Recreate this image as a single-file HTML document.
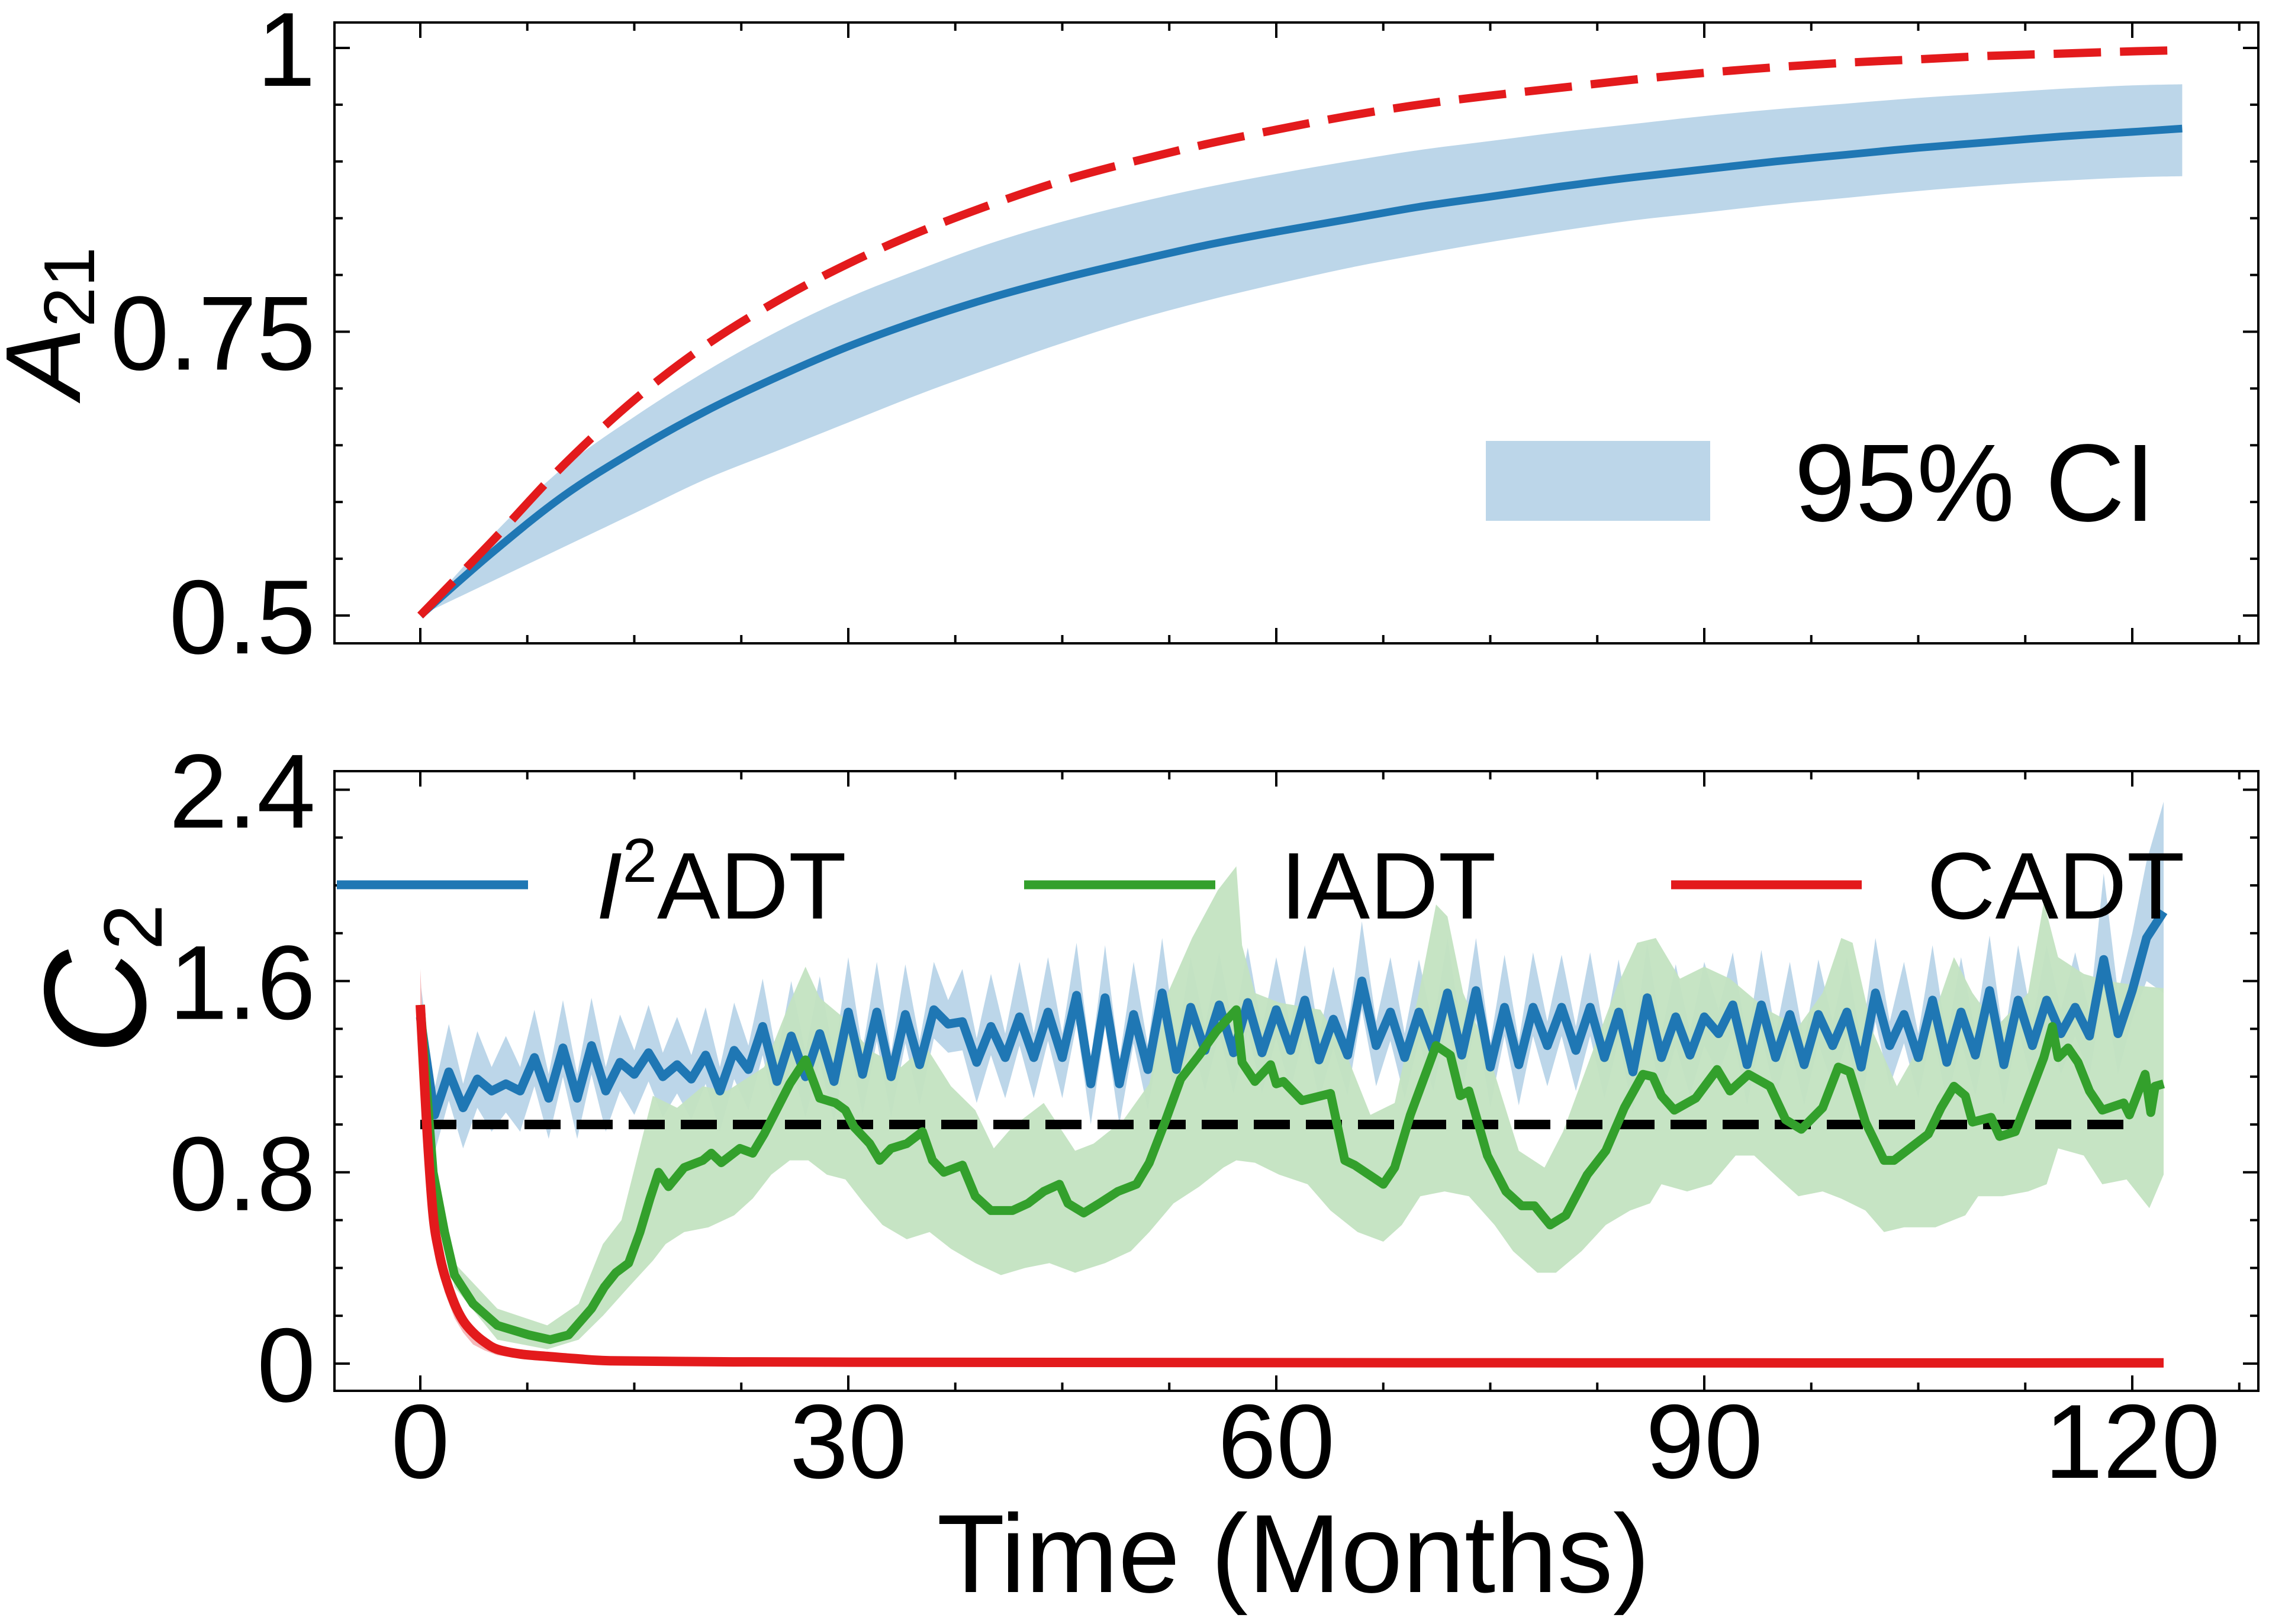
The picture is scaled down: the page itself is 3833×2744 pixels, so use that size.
<!DOCTYPE html>
<html><head><meta charset="utf-8"><style>
html,body{margin:0;padding:0;background:#fff}
svg{display:block}
text{font-family:"Liberation Sans",sans-serif;fill:#000}
</style></head><body>
<svg id="chart" width="3833" height="2744" viewBox="0 0 3833 2744" xmlns="http://www.w3.org/2000/svg">
<g id="top"></g>
<g id="bot"></g>
<g id="labels">
<text x="2185" y="2690" font-size="188" text-anchor="middle">Time (Months)</text>
<text transform="translate(135,545) rotate(-90)" text-anchor="middle"><tspan font-size="180" font-style="italic">A</tspan><tspan font-size="122" dy="24">21</tspan></text>
<text transform="translate(245,1655) rotate(-90)" text-anchor="middle"><tspan font-size="245" font-style="italic">C</tspan><tspan font-size="140" dy="28">2</tspan></text>
</g>
</svg>
<script>
const NS="http://www.w3.org/2000/svg";
// ---- top panel data ----
const topT=[0,5,10,15,20,25,30,35,40,45,50,55,60,65,70,75,80,85,90,95,100,105,110,115,120,123.5];
const topRed=[.5,.565,.632,.69,.738,.777,.81,.838,.862,.883,.9,.915,.928,.94,.95,.958,.965,.972,.978,.983,.987,.99,.993,.995,.997,.998];
const topBlue=[.5,.555,.605,.645,.68,.71,.737,.76,.78,.797,.812,.826,.838,.849,.86,.869,.878,.886,.893,.90,.906,.912,.917,.922,.926,.929];
const topHi=[.5,.57,.63,.675,.715,.75,.78,.805,.828,.847,.863,.877,.889,.90,.91,.918,.926,.933,.94,.946,.951,.956,.96,.964,.967,.968];
const topLo=[.5,.53,.56,.59,.62,.645,.67,.695,.718,.74,.76,.777,.792,.806,.818,.829,.839,.848,.855,.862,.868,.874,.879,.883,.886,.887];
const topYTicks=[0.5,0.75,1];
const topYLabels=["0.5","0.75","1"];
// ---- bottom panel data ----
const blueT=[];for(let i=0;i<=121;i++)blueT.push(i);blueT.push(122.2);
const blueV=[1.45,1.04,1.22,1.07,1.19,1.14,1.17,1.14,1.28,1.11,
1.32,1.11,1.33,1.14,1.26,1.21,1.30,1.20,1.25,1.19,
1.29,1.14,1.31,1.23,1.41,1.18,1.37,1.20,1.38,1.18,
1.47,1.21,1.47,1.20,1.46,1.25,1.48,1.42,1.43,1.26,
1.41,1.28,1.45,1.28,1.47,1.28,1.54,1.17,1.53,1.17,
1.46,1.23,1.55,1.23,1.49,1.31,1.50,1.30,1.51,1.30,
1.48,1.31,1.52,1.27,1.44,1.29,1.60,1.33,1.47,1.28,
1.47,1.31,1.55,1.29,1.56,1.24,1.49,1.25,1.49,1.33,
1.49,1.31,1.49,1.28,1.47,1.22,1.53,1.28,1.45,1.29,
1.45,1.38,1.50,1.25,1.50,1.28,1.46,1.25,1.46,1.33,
1.47,1.24,1.55,1.33,1.46,1.28,1.52,1.26,1.47,1.29,
1.56,1.25,1.52,1.33,1.52,1.38,1.49,1.37,1.69,1.38,
1.56,1.78,1.89];
const blueHi=[1.6,1.15,1.42,1.17,1.39,1.24,1.37,1.24,1.48,1.21,
1.52,1.21,1.53,1.24,1.46,1.31,1.50,1.30,1.45,1.29,
1.49,1.24,1.51,1.33,1.61,1.28,1.60,1.30,1.62,1.28,
1.70,1.31,1.68,1.30,1.67,1.35,1.68,1.52,1.65,1.36,
1.63,1.38,1.68,1.38,1.70,1.38,1.76,1.27,1.75,1.27,
1.68,1.33,1.78,1.33,1.70,1.41,1.72,1.40,1.74,1.40,
1.70,1.41,1.75,1.37,1.66,1.39,1.85,1.43,1.70,1.38,
1.69,1.41,1.78,1.39,1.78,1.34,1.71,1.35,1.72,1.43,
1.71,1.41,1.72,1.38,1.69,1.32,1.76,1.38,1.67,1.39,
1.68,1.48,1.72,1.35,1.73,1.38,1.68,1.35,1.69,1.43,
1.70,1.34,1.78,1.43,1.68,1.38,1.75,1.36,1.70,1.39,
1.79,1.35,1.75,1.43,1.75,1.48,1.72,1.47,2.05,1.55,
1.80,2.10,2.35];
const blueLo=[1.35,0.88,1.10,0.90,1.07,0.97,1.05,0.97,1.16,0.94,
1.20,0.94,1.21,0.97,1.14,1.04,1.18,1.03,1.13,1.02,
1.17,0.97,1.19,1.06,1.29,1.01,1.25,1.03,1.26,1.01,
1.35,1.04,1.35,1.03,1.34,1.08,1.36,1.30,1.31,1.09,
1.29,1.11,1.33,1.11,1.35,1.11,1.42,1.00,1.41,1.00,
1.34,1.06,1.43,1.06,1.37,1.14,1.38,1.13,1.39,1.13,
1.36,1.14,1.40,1.10,1.32,1.12,1.48,1.16,1.35,1.11,
1.35,1.14,1.43,1.12,1.44,1.07,1.37,1.08,1.37,1.16,
1.37,1.14,1.37,1.11,1.35,1.05,1.41,1.11,1.33,1.12,
1.33,1.21,1.38,1.08,1.38,1.11,1.34,1.08,1.34,1.16,
1.35,1.07,1.43,1.16,1.34,1.11,1.40,1.09,1.35,1.12,
1.44,1.08,1.40,1.16,1.40,1.21,1.37,1.20,1.57,1.21,
1.44,1.60,1.55];
const greenT=[0,0.9,1.7,2.4,3.7,5.4,7.6,9.1,10.4,12.0,12.9,13.7,14.6,15.4,16.1,16.7,17.4,18.5,19.8,20.4,21.1,22.4,23.3,24.1,25.9,27.0,28.0,29.1,29.8,30.4,31.5,32.2,33.0,34.1,35.2,35.9,36.7,38.0,38.9,40.0,41.5,42.6,43.7,44.8,45.4,46.5,47.6,48.9,50.2,51.1,52.2,53.3,54.6,55.8,57.2,57.6,58.5,59.6,60.0,60.5,61.8,63.8,64.8,65.5,67.5,68.3,69.4,71.2,72.2,72.9,73.5,74.8,76.1,77.2,78.1,79.2,80.3,81.8,83.1,84.4,85.7,86.4,87.0,87.9,89.4,90.9,91.8,93.1,94.6,95.7,96.8,98.3,99.4,100.2,101.3,102.6,103.3,104.4,105.7,106.6,107.5,108.3,108.8,110.1,110.7,111.8,113.1,113.8,114.4,114.8,115.5,116.2,117.0,117.9,119.4,119.8,120.9,121.3,121.6,122.2];
const greenV=[1.5,0.80,0.55,0.37,0.25,0.16,0.12,0.10,0.12,0.23,0.32,0.38,0.42,0.55,0.69,0.80,0.74,0.82,0.85,0.88,0.84,0.90,0.88,0.96,1.17,1.27,1.11,1.09,1.06,0.99,0.92,0.85,0.90,0.92,0.97,0.85,0.80,0.83,0.70,0.64,0.64,0.67,0.72,0.75,0.67,0.63,0.67,0.72,0.75,0.84,1.01,1.19,1.29,1.39,1.48,1.26,1.18,1.25,1.17,1.18,1.10,1.13,0.85,0.83,0.75,0.82,1.04,1.33,1.29,1.12,1.14,0.87,0.72,0.66,0.66,0.58,0.62,0.79,0.89,1.07,1.21,1.20,1.12,1.06,1.11,1.23,1.14,1.21,1.16,1.02,0.98,1.07,1.24,1.22,1.01,0.85,0.85,0.90,0.96,1.07,1.16,1.12,1.01,1.03,0.95,0.97,1.17,1.28,1.41,1.28,1.32,1.26,1.14,1.06,1.09,1.04,1.21,1.05,1.16,1.17];
const greenHiT=[0,0.9,2.4,5.4,8.9,11.1,12.8,14.1,16.3,18,19.8,21.5,24.1,25.9,27,28,29.8,31.5,33.7,35.4,37.2,38.9,40.2,41.5,43.7,45.9,47.2,49.3,51.1,52.4,54.1,55.9,57.2,57.6,58.5,60.2,63.1,64.8,66.6,68.3,70,71.2,72,73.1,74.8,77,78.8,80.1,82.2,83.9,85.3,86.6,88.3,90,91.8,94.4,96.6,98.3,99.6,100.4,101.8,103.5,105.7,107.5,108.8,110.5,112.7,113.8,114.8,116.6,118.3,120.5,122.2];
const greenHi=[1.5,0.85,0.42,0.23,0.16,0.25,0.50,0.60,1.12,1.07,1.16,1.14,1.24,1.51,1.66,1.53,1.44,1.31,1.24,1.33,1.16,1.06,0.90,0.99,1.09,0.89,0.92,1.02,1.17,1.55,1.78,1.98,2.08,1.75,1.55,1.51,1.48,1.31,1.04,1.09,1.55,1.92,1.87,1.55,1.31,0.89,0.82,0.97,1.31,1.58,1.76,1.78,1.61,1.66,1.61,1.48,1.41,1.55,1.78,1.76,1.39,1.16,1.39,1.70,1.55,1.41,1.55,1.93,1.70,1.63,1.60,1.58,1.57];
const greenLoT=[0,0.9,2.4,5.4,8.9,11.1,12.8,14.6,16.3,17.2,18.5,20.2,22,23.3,24.6,25.9,27.2,28.5,29.8,31.1,32.4,34.1,35.7,37.2,38.9,40.7,42.4,44.1,45.9,48,49.8,51.1,52.8,54.6,56.3,57.2,58.5,60.2,62.2,63.8,65.7,67.5,68.8,70.1,71.8,73.5,75.3,76.6,78.3,79.6,81.4,83.1,84.8,86.2,87,88.8,90.5,92.2,93.5,95.3,96.6,98.3,99.6,101.3,102.6,104,106.2,108.3,109.2,110.9,112.7,114,114.8,116.6,117.9,119.6,121.2,122.2];
const greenLo=[1.5,0.72,0.32,0.10,0.06,0.10,0.20,0.32,0.43,0.50,0.55,0.57,0.62,0.69,0.79,0.85,0.85,0.79,0.77,0.67,0.58,0.52,0.55,0.48,0.42,0.37,0.40,0.42,0.38,0.42,0.47,0.55,0.67,0.74,0.82,0.85,0.84,0.79,0.75,0.64,0.55,0.51,0.58,0.70,0.72,0.70,0.58,0.47,0.38,0.38,0.47,0.58,0.64,0.67,0.75,0.72,0.75,0.87,0.87,0.77,0.70,0.72,0.69,0.64,0.55,0.57,0.57,0.62,0.70,0.70,0.72,0.75,0.90,0.87,0.75,0.77,0.65,0.79];
const redT=[0,0.5,0.9,1.3,1.7,2.4,3.0,3.7,4.5,5.4,7.0,8.9,11,13.3,20,30,60,90,122.2];
const redV=[1.5,0.95,0.62,0.47,0.37,0.25,0.18,0.13,0.09,0.06,0.04,0.03,0.02,0.012,0.008,0.006,0.004,0.003,0.003];
const redHi=[1.65,1.05,0.68,0.52,0.41,0.28,0.20,0.15,0.10,0.07,0.05,0.035,0.025,0.015,0.01,0.008,0.006,0.005,0.005];
const redLo=[1.45,0.85,0.55,0.40,0.30,0.19,0.13,0.08,0.055,0.035,0.022,0.015,0.01,0.006,0.004,0.003,0.002,0.001,0.001];
const refLevel=[1.0];
const refT=[0,119.5];
const botYTicks=[0,0.8,1.6,2.4];
const botYLabels=["0","0.8","1.6","2.4"];
const xTicks=[0,30,60,90,120];
const xLabels=["0","30","60","90","120"];

// ---- scales ----
const X0=710,XS=24.1,LEFT=565,RIGHT=3815;
const x=t=>X0+t*XS;
const yT=v=>81+(1-v)*1918;
const yB=v=>2304-v*404;
const TOP={y0:38,y1:1087},BOT={y0:1303,y1:2350};

function el(tag,attrs,parent){const e=document.createElementNS(NS,tag);for(const k in attrs)e.setAttribute(k,attrs[k]);parent.appendChild(e);return e;}
function pts(ts,vs,ys){return ts.map((t,i)=>[x(t),ys(vs[i])]);}
function linePath(ts,vs,ys){return ts.map((t,i)=>(i?"L":"M")+x(t).toFixed(1)+","+ys(vs[i]).toFixed(1)).join("");}
function smoothSeg(P,start){
  let d=start?("M"+P[0][0].toFixed(1)+","+P[0][1].toFixed(1)):("L"+P[0][0].toFixed(1)+","+P[0][1].toFixed(1));
  for(let i=0;i<P.length-1;i++){
    const p0=P[Math.max(0,i-1)],p1=P[i],p2=P[i+1],p3=P[Math.min(P.length-1,i+2)];
    const c1=[p1[0]+(p2[0]-p0[0])/6,p1[1]+(p2[1]-p0[1])/6];
    const c2=[p2[0]-(p3[0]-p1[0])/6,p2[1]-(p3[1]-p1[1])/6];
    d+="C"+c1[0].toFixed(1)+","+c1[1].toFixed(1)+" "+c2[0].toFixed(1)+","+c2[1].toFixed(1)+" "+p2[0].toFixed(1)+","+p2[1].toFixed(1);
  }
  return d;
}
function bandPath(tH,hi,tL,lo,ys){let d=tH.map((t,i)=>(i?"L":"M")+x(t).toFixed(1)+","+ys(hi[i]).toFixed(1)).join("");for(let i=tL.length-1;i>=0;i--)d+="L"+x(tL[i]).toFixed(1)+","+ys(lo[i]).toFixed(1);return d+"Z";}
function smoothBand(t,hi,lo,ys){return smoothSeg(pts(t,hi,ys),true)+smoothSeg(pts(t,lo,ys).reverse(),false)+"Z";}

function axes(g,box,ys,yTicks,yLabels,minorStep,vmin,vmax,showX){
  for(let t=-7.5;t<=130;t+=7.5){
    const xx=x(t);if(xx<LEFT+2||xx>RIGHT-2)continue;
    const major=Math.abs(t%30)<1e-6;const L=major?26:14;
    const a=el("line",{x1:xx,x2:xx,y1:box.y1,y2:box.y1-L,stroke:"#000","stroke-width":4},g);
    
    const b=el("line",{x1:xx,x2:xx,y1:box.y0,y2:box.y0+L,stroke:"#000","stroke-width":4},g);
    
  }
  for(let v=vmin;v<=vmax+1e-9;v+=minorStep){
    const yy=ys(v);if(yy<box.y0+2||yy>box.y1-2)continue;
    const major=yTicks.some(m=>Math.abs(m-v)<1e-6);const L=major?26:14;
    const a=el("line",{x1:LEFT,x2:LEFT+L,y1:yy,y2:yy,stroke:"#000","stroke-width":4},g);
    
    const b=el("line",{x1:RIGHT,x2:RIGHT-L,y1:yy,y2:yy,stroke:"#000","stroke-width":4},g);
    
  }
  yTicks.forEach((v,i)=>{
    const t=el("text",{x:533,y:ys(v)+64,"font-size":178,"text-anchor":"end"},g);t.textContent=yLabels[i];
    
  });
  if(showX)xTicks.forEach((v,i)=>{
    const t=el("text",{x:x(v),y:2497,"font-size":178,"text-anchor":"middle"},g);t.textContent=xLabels[i];
    
  });
  const r=el("rect",{x:LEFT,y:box.y0,width:RIGHT-LEFT,height:box.y1-box.y0,fill:"none",stroke:"#000","stroke-width":4},g);
  
}

// top panel
const gt=document.getElementById("top");
let p=el("path",{d:smoothBand(topT,topHi,topLo,yT),fill:"#bcd6e9"},gt);

p=el("path",{d:smoothSeg(pts(topT,topBlue,yT),true),fill:"none",stroke:"#1f77b4","stroke-width":13,"stroke-linejoin":"round"},gt);

p=el("path",{d:smoothSeg(pts(topT,topRed,yT),true),fill:"none",stroke:"#e31a1c","stroke-width":14,"stroke-dasharray":"80 32"},gt);

axes(gt,TOP,yT,topYTicks,topYLabels,0.05,0.5,1.0,false);
p=el("rect",{x:2510,y:745,width:379,height:135,fill:"#bcd6e9"},gt);

p=el("text",{x:3031,y:880,"font-size":186},gt);p.textContent="95% CI";


// bottom panel
const gb=document.getElementById("bot");
p=el("path",{d:bandPath(blueT,blueHi,blueT,blueLo,yB),fill:"#bcd6e9"},gb);

p=el("path",{d:bandPath(greenHiT,greenHi,greenLoT,greenLo,yB),fill:"#c3e3c1","fill-opacity":0.95},gb);

p=el("path",{d:bandPath(redT,redHi,redT,redLo,yB),fill:"#f4b9ba"},gb);

p=el("line",{x1:x(refT[0]),x2:x(refT[1]),y1:yB(refLevel[0]),y2:yB(refLevel[0]),stroke:"#000","stroke-width":16,"stroke-dasharray":"61 27"},gb);

p=el("path",{d:linePath(blueT,blueV,yB),fill:"none",stroke:"#1f77b4","stroke-width":15,"stroke-linejoin":"round"},gb);

p=el("path",{d:linePath(greenT,greenV,yB),fill:"none",stroke:"#33a02c","stroke-width":15,"stroke-linejoin":"round"},gb);

p=el("path",{d:smoothSeg(pts(redT,redV,yB),true),fill:"none",stroke:"#e31a1c","stroke-width":16,"stroke-linejoin":"round"},gb);

axes(gb,BOT,yB,botYTicks,botYLabels,0.2,0,2.4,true);
// legend
const leg=[[569,892,"#1f77b4"],[1730,2053,"#33a02c"],[2823,3145,"#e31a1c"]];
p=el("line",{x1:leg[0][0],x2:leg[0][1],y1:1495,y2:1495,stroke:leg[0][2],"stroke-width":15},gb);

p=el("line",{x1:leg[1][0],x2:leg[1][1],y1:1495,y2:1495,stroke:leg[1][2],"stroke-width":15},gb);

p=el("line",{x1:leg[2][0],x2:leg[2][1],y1:1495,y2:1495,stroke:leg[2][2],"stroke-width":15},gb);

p=el("text",{x:1007,y:1552,"font-size":160},gb);
p.innerHTML='<tspan font-style="italic">I</tspan><tspan font-size="105" dy="-62">2</tspan><tspan dy="62">ADT</tspan>';

p=el("text",{x:2163,y:1552,"font-size":160},gb);p.textContent="IADT";

p=el("text",{x:3255,y:1552,"font-size":160},gb);p.textContent="CADT";

</script>
</body></html>
